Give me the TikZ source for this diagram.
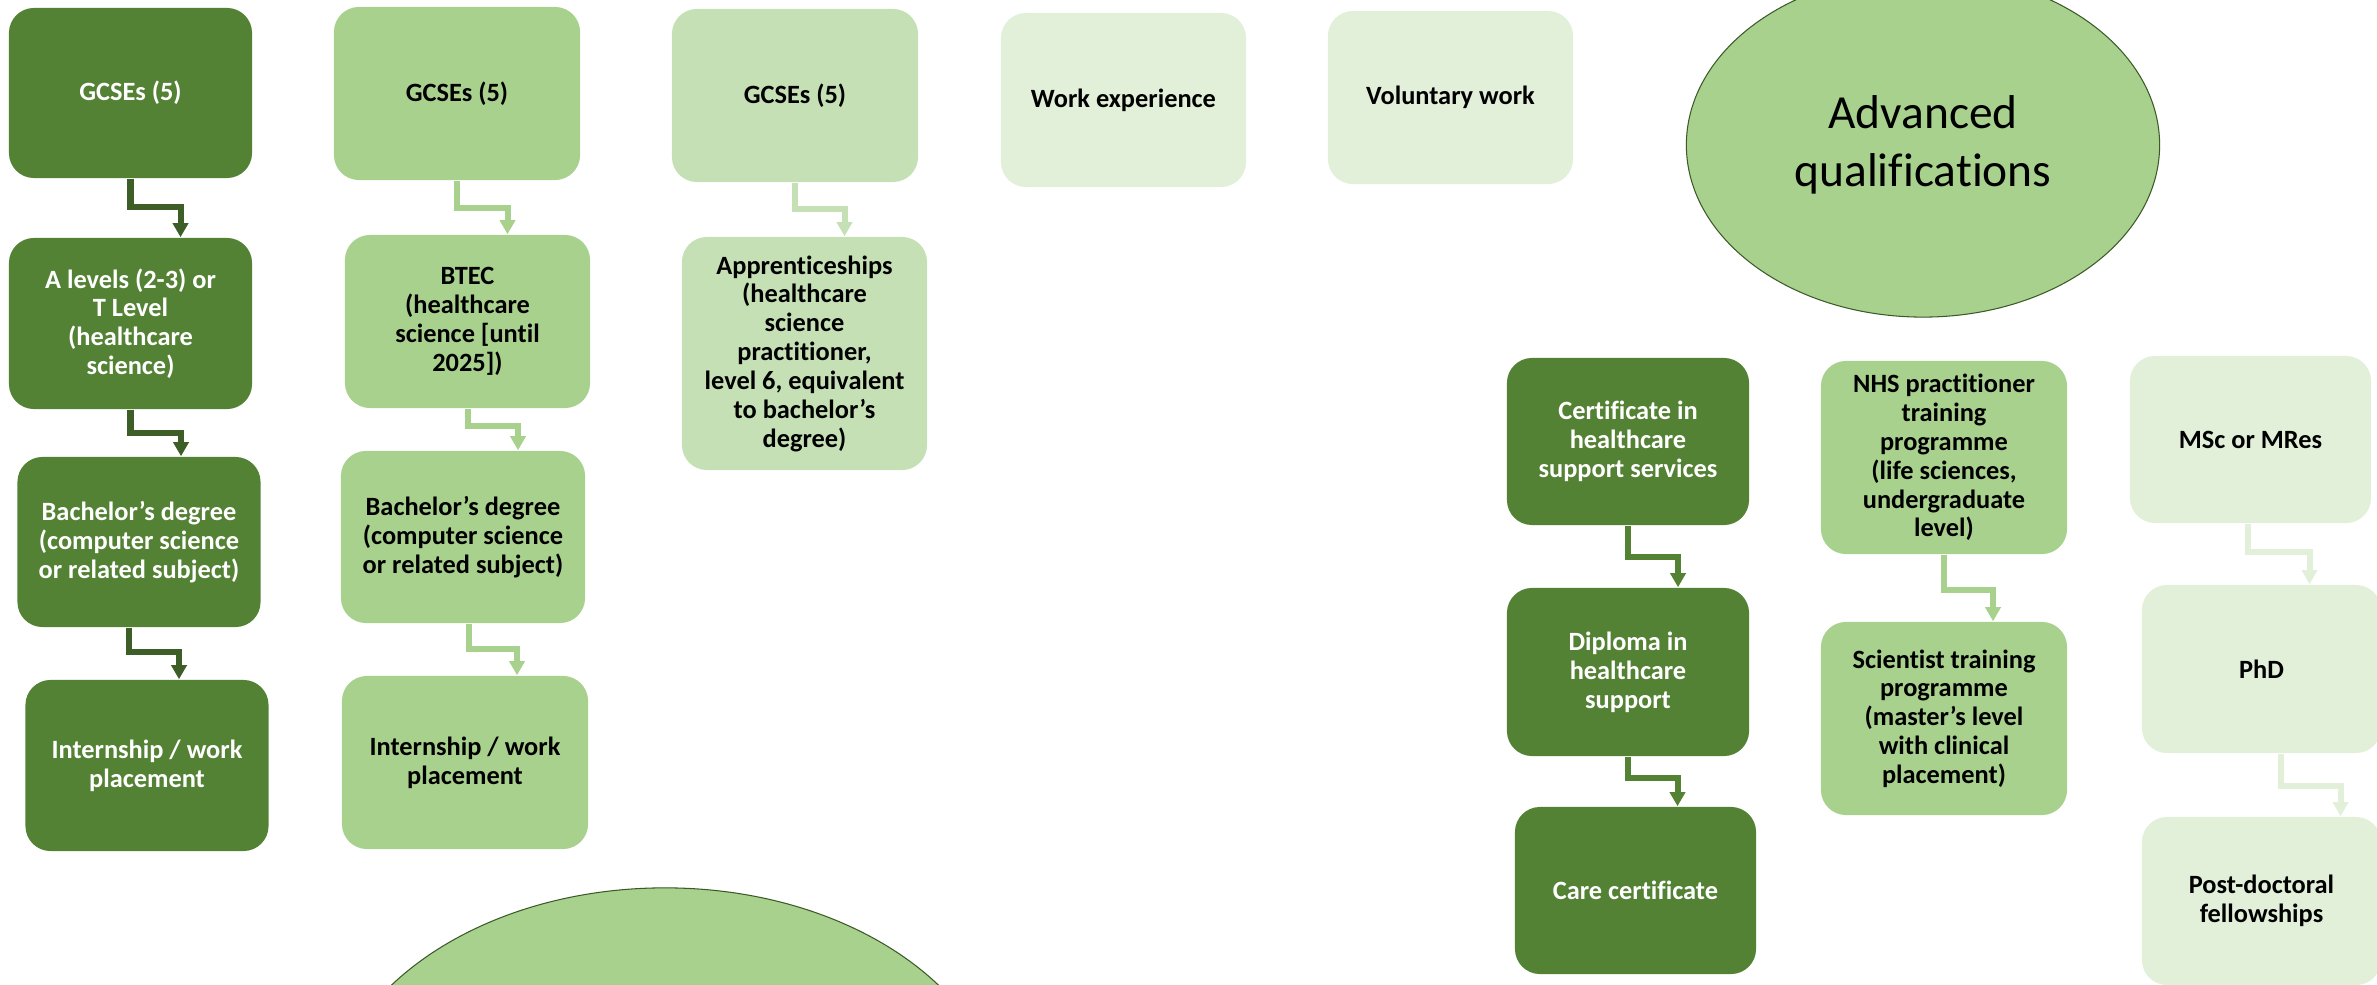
\documentclass[tikz,border=0pt]{standalone}
\usepackage{fontspec}
\setmainfont{Carlito}[Ligatures={TeX,NoCommon}]
\usetikzlibrary{arrows.meta,positioning,shapes.geometric}

\definecolor{darkgreen}{HTML}{548235}
\definecolor{darkarrow}{HTML}{3D5F27}
\definecolor{midgreen}{HTML}{A9D18E}
\definecolor{lightgreen}{HTML}{C5E0B4}
\definecolor{palegreen}{HTML}{E2F0D9}
\definecolor{rimgreen}{HTML}{3B5A28}

\begin{document}
\begin{tikzpicture}[x=0.01cm, y=-0.01cm,
  box/.style={rectangle, rounded corners=0.25cm, minimum width=2.43cm, minimum height=1.7cm, align=center, inner sep=0pt, font=\fontsize{7.5pt}{8.2pt}\selectfont\bfseries},
  dark box/.style={box, fill=darkgreen, text=white},
  mid box/.style={box, fill=midgreen},
  light box/.style={box, fill=lightgreen},
  pale box/.style={box, fill=palegreen},
  flow/.style={line width=0.06cm, -{Triangle[width=0.15cm,length=0.14cm]}},
  oval/.style={ellipse, draw=rimgreen, line width=0.3pt, fill=midgreen, inner sep=0pt}]
\useasboundingbox (0,0) rectangle (2377,985);
\clip (0,0) rectangle (2377,985);
% ellipses
\node[oval, minimum width=6.8cm, minimum height=4.8cm] (cl) at (665,1128) {};
\node[oval, minimum width=4.73cm, minimum height=3.44cm, align=center, font=\fontsize{13.5pt}{16.3pt}\selectfont] (aq) at (1923,145) {Advanced\\qualifications};
\begin{scope}
% first three routes
\node[dark box] (gc1) at (130.5,93) {GCSEs (5)};
\node[dark box, minimum height=1.71cm] (al1) at (130.5,323.5) {A levels (2-3) or\\T Level\\(healthcare\\science)};
\node[dark box] (bd1) at (139,542) {Bachelor’s degree\\(computer science\\or related subject)};
\node[dark box, minimum height=1.71cm] (ip1) at (147,765.5) {Internship / work\\placement};
\node[mid box, minimum width=2.46cm, minimum height=1.73cm] (gc2) at (457,93.5) {GCSEs (5)};
\node[mid box, minimum width=2.45cm, minimum height=1.73cm] (bt2) at (467.5,321.5) {BTEC\\(healthcare\\science [until\\2025])};
\node[mid box, minimum width=2.44cm, minimum height=1.72cm] (bd2) at (463,537) {Bachelor’s degree\\(computer science\\or related subject)};
\node[mid box, minimum width=2.46cm, minimum height=1.73cm] (ip2) at (465,762.5) {Internship / work\\placement};
\node[light box, minimum width=2.46cm, minimum height=1.73cm] (gc3) at (795,95.5) {GCSEs (5)};
\node[light box, minimum width=2.45cm, minimum height=2.33cm] (ap3) at (804.5,353.5) {Apprenticeships\\(healthcare\\science\\practitioner,\\level 6, equivalent\\to bachelor’s\\degree)};
\node[pale box, minimum width=2.45cm, minimum height=1.74cm] (we) at (1123.5,100) {Work experience};
\node[pale box, minimum width=2.45cm, minimum height=1.73cm] (vw) at (1450.5,97.5) {Voluntary work};
% advanced routes
\node[dark box, minimum width=2.42cm, minimum height=1.67cm] (ce) at (1628,441.5) {Certificate in\\healthcare\\support services};
\node[dark box, minimum width=2.42cm, minimum height=1.68cm] (dh) at (1628,672) {Diploma in\\healthcare\\support};
\node[dark box, minimum width=2.41cm, minimum height=1.67cm] (cc) at (1635.5,890.5) {Care certificate};
\node[mid box, minimum width=2.46cm, minimum height=1.93cm] (np) at (1944,457.5) {NHS practitioner\\training\\programme\\(life sciences,\\undergraduate\\level)};
\node[mid box, minimum width=2.46cm, minimum height=1.93cm] (st) at (1944,718.5) {Scientist training\\programme\\(master’s level\\with clinical\\placement)};
\node[pale box, minimum width=2.41cm, minimum height=1.67cm] (ms) at (2250.5,439.5) {MSc or MRes};
\node[pale box, minimum width=2.39cm, minimum height=1.68cm] (pd) at (2261.5,669) {PhD};
\node[pale box, minimum width=2.39cm, minimum height=1.68cm] (pf) at (2261.5,901) {Post-doctoral\\fellowships};
\end{scope}
\begin{scope}
\draw[flow, darkarrow] (gc1.south) -- ++(0,28) -| ([xshift=0.5cm]al1.north);
\draw[flow, darkarrow] (al1.south) -- ++(0,23) -| ([xshift=0.42cm]bd1.north);
\draw[flow, darkarrow] ([xshift=-0.1cm]bd1.south) -- ++(0,24) -| ([xshift=0.32cm]ip1.north);
\draw[flow, midgreen] (gc2.south) -- ++(0,27) -| ([xshift=0.4cm]bt2.north);
\draw[flow, midgreen] (bt2.south) -- ++(0,17) -| ([xshift=0.55cm]bd2.north);
\draw[flow, midgreen] ([xshift=0.06cm]bd2.south) -- ++(0,25) -| ([xshift=0.52cm]ip2.north);
\draw[flow, lightgreen] (gc3.south) -- ++(0,26) -| ([xshift=0.4cm]ap3.north);
\draw[flow, darkgreen] (ce.south) -- ++(0,31) -| ([xshift=0.5cm]dh.north);
\draw[flow, darkgreen] (dh.south) -- ++(0,21) -| ([xshift=0.42cm]cc.north);
\draw[flow, midgreen] (np.south) -- ++(0,35) -| ([xshift=0.49cm]st.north);
\draw[flow, palegreen] ([xshift=-0.03cm]ms.south) -- ++(0,28) -| ([xshift=0.48cm]pd.north);
\draw[flow, palegreen] ([xshift=0.19cm]pd.south) -- ++(0,32) -| ([xshift=0.79cm]pf.north);
\end{scope}
\end{tikzpicture}
\end{document}
